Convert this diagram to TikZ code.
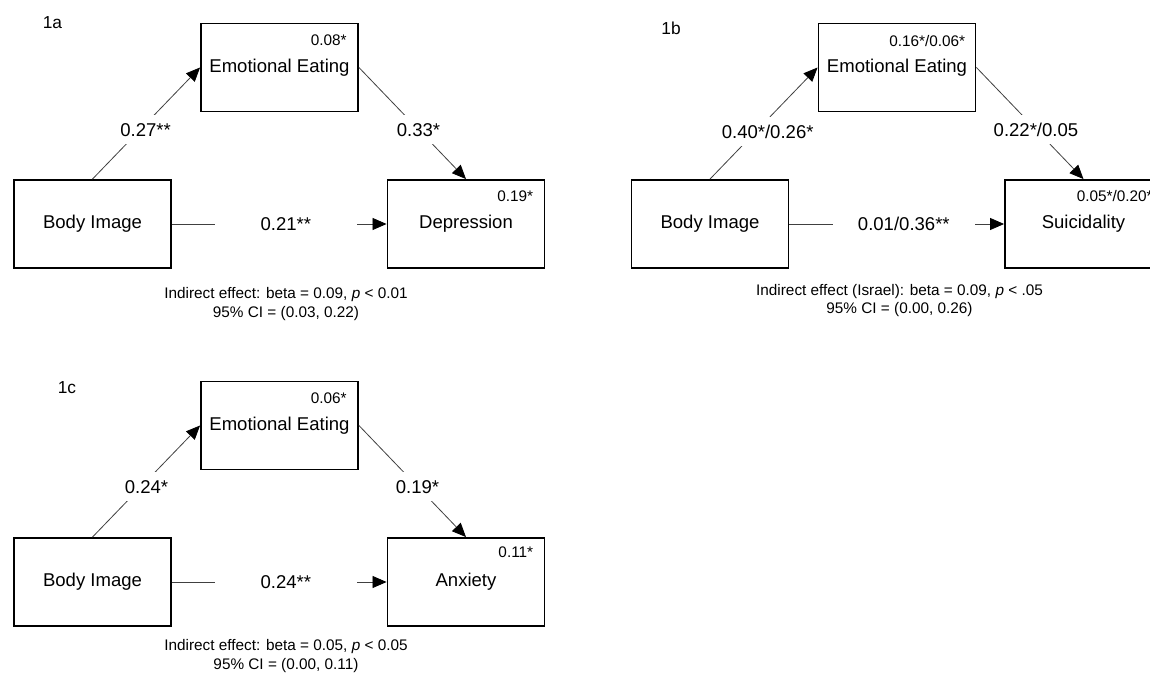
\documentclass[tikz,border=0pt]{standalone}
\usepackage{fontspec}
\setmainfont{Liberation Sans}
\usetikzlibrary{
	arrows.meta,
	positioning,
	calc,
	}

\tikzset{
	var/.style={draw, line width=1.4pt, minimum width=117.75pt, minimum height=66pt, inner sep=0pt, font=\fontsize{13.9}{16}\selectfont},
	coef/.style={fill=white, text height=10pt, text depth=0pt, inner xsep=2pt, inner ysep=5.7pt, font=\fontsize{13.9}{16}\selectfont},
	direct/.style={coef, minimum width=106.5pt},
	rsq/.style={anchor=east, inner sep=0pt, font=\fontsize{11.5}{13}\selectfont},
	note/.style={align=center, inner sep=0pt, font=\fontsize{11.5}{14}\selectfont},
	panel/.style={inner sep=0pt, font=\fontsize{13}{15}\selectfont},
	con/.style={draw=black!75, line width=0.6pt, -{Triangle[length=10.5pt,width=9pt,black]}},
}

\begin{document}
\begin{tikzpicture}[x=0.75pt, y=-0.75pt]
	\useasboundingbox (0,0) rectangle (1150,673);
	\clip (0,0) rectangle (1150,673);

	\begin{scope}
		\node[panel] (a) at (52.5,23) {1a};
		\node[var] (a0) at (92.5,224) {Body Image};
		\node[var] (a1) at (279.5,67.5) {Emotional Eating};
		\node[var] (a2) at (466,224) {Depression};
		\node[rsq] (a1r) at ([shift={(-12,18)}]a1.north east) {0.08*};
		\node[rsq] (a2r) at ([shift={(-12,17)}]a2.north east) {0.19*};
		\node[note] (a3) at (286,304) {Indirect effect: beta = 0.09, \textit{p} < 0.01\\95\% CI = (0.03, 0.22)};

		\draw[con] (a0.north) -- node[coef, pos=0.444, xshift=4pt] {0.27**} (a1.west);
		\draw[con] (a1.east) -- node[coef, pos=0.556] {0.33*} (a2.north);
		\draw[con] (a0.east) -- node[direct, pos=0.531] {0.21**} (a2.west);
	\end{scope}

	\begin{scope}[shift={(617.5,0)}]
		\node[panel] (b) at (53.5,28) {1b};
		\node[var] (b0) at (92.5,224) {Body Image};
		\node[var] (b1) at (279.5,67.5) {Emotional Eating};
		\node[var] (b2) at (466,224) {Suicidality};
		\node[rsq] (b1r) at ([shift={(-11,18)}]b1.north east) {0.16*/0.06*};
		\node[rsq] (b2r) at ([shift={(-10,17)}]b2.north east) {0.05*/0.20*};
		\node[note] (b3) at (282,300.5) {Indirect effect (Israel): beta = 0.09, \textit{p} < .05\\95\% CI = (0.00, 0.26)};

		\draw[con] (b0.north) -- node[coef, pos=0.427, xshift=8.8pt] {0.40*/0.26*} (b1.west);
		\draw[con] (b1.east) -- node[coef, pos=0.556] {0.22*/0.05} (b2.north);
		\draw[con] (b0.east) -- node[direct, pos=0.533] {0.01/0.36**} (b2.west);
	\end{scope}

	\begin{scope}[shift={(0,358)}]
		\node[panel] (c) at (67,30) {1c};
		\node[var] (c0) at (92.5,224) {Body Image};
		\node[var] (c1) at (279.5,67.5) {Emotional Eating};
		\node[var] (c2) at (466,224) {Anxiety};
		\node[rsq] (c1r) at ([shift={(-12,18)}]c1.north east) {0.06*};
		\node[rsq] (c2r) at ([shift={(-12,15)}]c2.north east) {0.11*};
		\node[note] (c3) at (286,298) {Indirect effect: beta = 0.05, \textit{p} < 0.05\\95\% CI = (0.00, 0.11)};

		\draw[con] (c0.north) -- node[coef, pos=0.453, xshift=4pt] {0.24*} (c1.west);
		\draw[con] (c1.east) -- node[coef, pos=0.547] {0.19*} (c2.north);
		\draw[con] (c0.east) -- node[direct, pos=0.531] {0.24**} (c2.west);
	\end{scope}
\end{tikzpicture}
\end{document}
